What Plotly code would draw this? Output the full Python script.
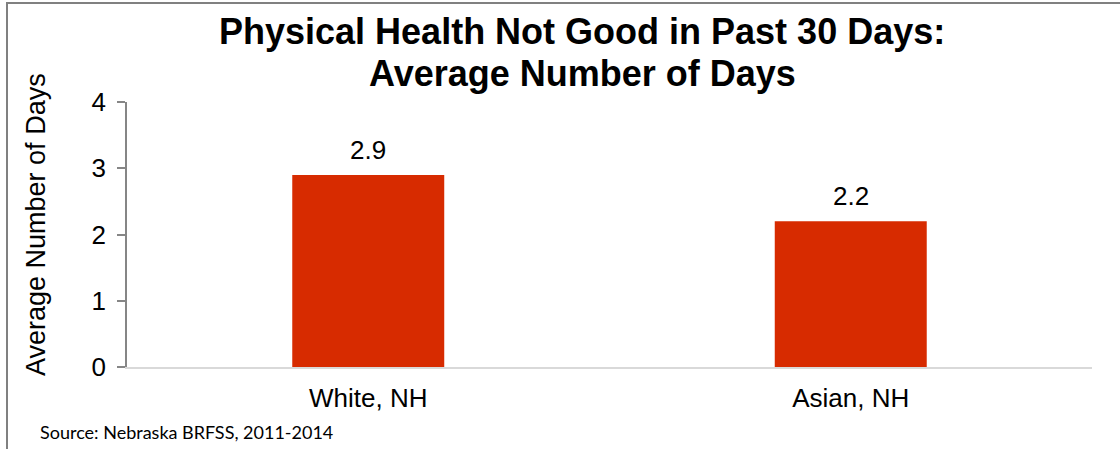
import plotly.graph_objects as go

categories = ["White, NH", "Asian, NH"]
values = [2.9, 2.2]
value_labels = ["2.9", "2.2"]
y_ticks = [0, 1, 2, 3, 4]
title_lines = ["Physical Health Not Good in Past 30 Days:", "Average Number of Days"]

W, H = 1120, 449
L, R, T, B = 127, 28, 102, 82
pw, ph = W - L - R, H - T - B

def px_x(px):
    return (px - L) / pw

def px_y(py):
    return (H - B - py) / ph

FONT = "Liberation Sans, Arial"

fig = go.Figure()
fig.add_trace(go.Bar(
    x=categories, y=values,
    marker=dict(color="#D72B00", line=dict(width=0)),
    width=0.315, hoverinfo="skip",
))

for c, v, t in zip(categories, values, value_labels):
    fig.add_annotation(
        x=c, y=v, text=t, showarrow=False, xref="x", yref="y",
        yanchor="bottom", yshift=8,
        font=dict(family=FONT, size=26, color="#000000"),
    )

fig.update_layout(
    width=W, height=H,
    margin=dict(l=L, r=R, t=T, b=B),
    paper_bgcolor="white", plot_bgcolor="white",
    showlegend=False,
    font=dict(family=FONT, size=26, color="#000000"),
    xaxis=dict(
        showline=True, linecolor="#D9D9D9", linewidth=2,
        showgrid=False, ticks="", tickfont=dict(size=26),
        range=[-0.5, 1.5], ticklabelstandoff=7,
    ),
    yaxis=dict(
        range=[0, 4], tickvals=y_ticks, showgrid=False, zeroline=False,
        showline=True, linecolor="#868686", linewidth=1.5,
        ticks="outside", ticklen=8, tickcolor="#868686", tickwidth=1.5,
        tickfont=dict(size=26), ticklabelstandoff=6,
    ),
)

fig.add_annotation(
    text="Average Number of Days", textangle=-90,
    xref="paper", yref="paper", x=px_x(36), y=px_y(225),
    xanchor="center", yanchor="middle", showarrow=False,
    font=dict(family=FONT, size=27, color="#000000"),
)
for line, ypx in zip(title_lines, [31, 73]):
    fig.add_annotation(
        text="<b>" + line + "</b>",
        xref="paper", yref="paper", x=px_x(582), y=px_y(ypx),
        xanchor="center", yanchor="middle", showarrow=False,
        font=dict(family=FONT, size=36, color="#000000"),
    )
fig.add_annotation(
    text="Source: Nebraska BRFSS, 2011-2014",
    xref="paper", yref="paper", x=px_x(38), y=px_y(432),
    xanchor="left", yanchor="middle", showarrow=False,
    font=dict(family="Lato, Carlito, Calibri", size=18, color="#000000"),
)
fig.add_shape(
    type="rect", xref="paper", yref="paper",
    x0=px_x(7), x1=px_x(1130), y0=px_y(460), y1=px_y(3),
    line=dict(color="#808080", width=2), fillcolor="rgba(0,0,0,0)",
)

fig.write_html(
    "out.html",
    config={"displayModeBar": False},
    post_script="document.body.style.margin='0';document.body.style.overflow='hidden';",
)
